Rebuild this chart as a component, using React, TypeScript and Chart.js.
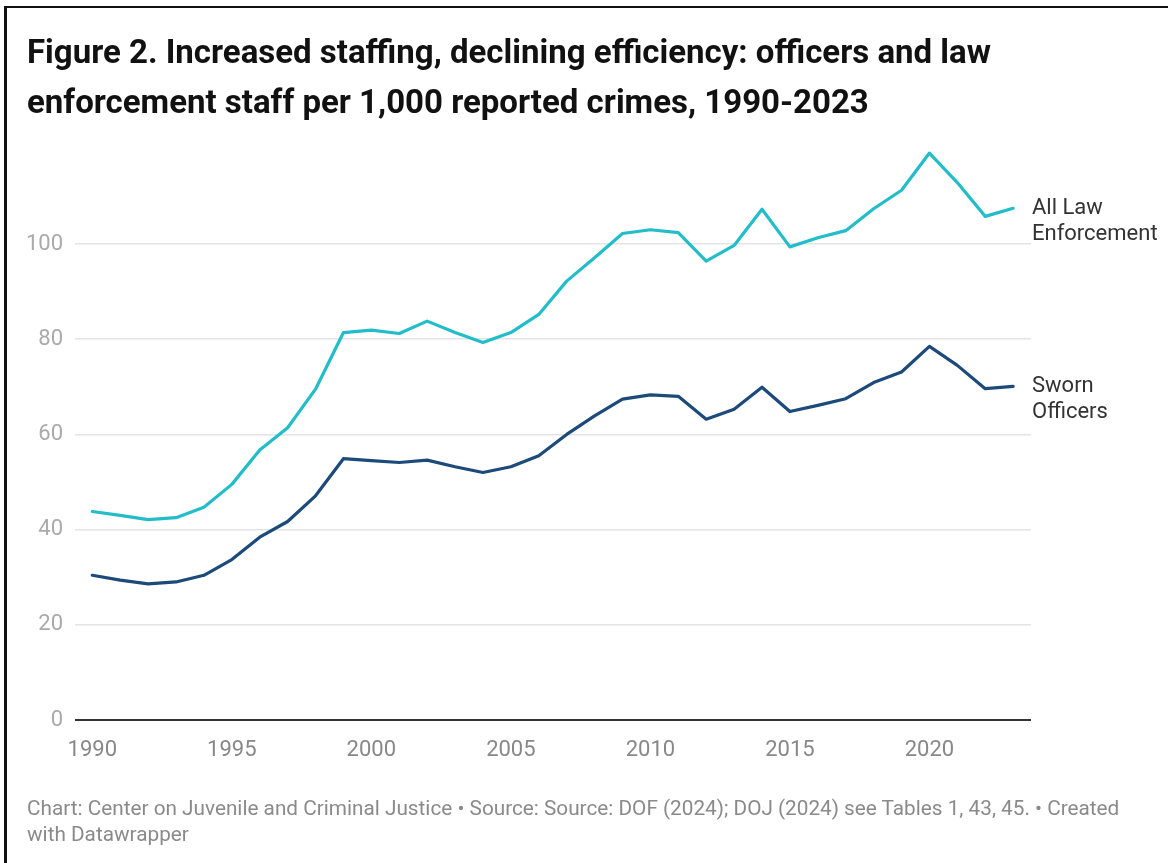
import React, { useEffect, useRef } from "react";
import { Chart, registerables } from "chart.js";

Chart.register(...registerables);

const years = [
  1990, 1991, 1992, 1993, 1994, 1995, 1996, 1997, 1998, 1999, 2000, 2001,
  2002, 2003, 2004, 2005, 2006, 2007, 2008, 2009, 2010, 2011, 2012, 2013,
  2014, 2015, 2016, 2017, 2018, 2019, 2020, 2021, 2022, 2023,
];

const allLawEnforcement = [
  43.8, 43.0, 42.1, 42.5, 44.7, 49.5, 56.7, 61.4, 69.5, 81.4, 81.9, 81.2,
  83.8, 81.4, 79.3, 81.4, 85.2, 92.2, 97.1, 102.2, 103.0, 102.4, 96.4, 99.7,
  107.3, 99.4, 101.3, 102.8, 107.4, 111.3, 119.1, 112.9, 105.8, 107.5,
];

const swornOfficers = [
  30.4, 29.4, 28.6, 29.0, 30.4, 33.7, 38.4, 41.7, 47.1, 54.9, 54.5, 54.1,
  54.6, 53.2, 52.0, 53.2, 55.5, 60.0, 63.9, 67.4, 68.3, 68.0, 63.2, 65.3,
  69.9, 64.8, 66.1, 67.5, 70.9, 73.1, 78.5, 74.5, 69.6, 70.1,
];

const xTicks = [1990, 1995, 2000, 2005, 2010, 2015, 2020];
const yTicks = [0, 20, 40, 60, 80, 100];
const seriesNames = ["All Law Enforcement", "Sworn Officers"];
const seriesLabelLines = [
  ["All Law", "Enforcement"],
  ["Sworn", "Officers"],
];
const seriesColors = ["#22bdc9", "#1b4a7b"];

const titleLines = [
  "Figure 2. Increased staffing, declining efficiency: officers and law",
  "enforcement staff per 1,000 reported crimes, 1990-2023",
];
const footerLines = [
  "Chart: Center on Juvenile and Criminal Justice \u2022 Source: Source: DOF (2024); DOJ (2024) see Tables 1, 43, 45. \u2022 Created",
  "with Datawrapper",
];

export default function App() {
  const ref = useRef<HTMLCanvasElement>(null);

  useEffect(() => {
    document.body.style.margin = "0";
    const endLabels = {
      id: "endLabels",
      afterDatasetsDraw(chart: any) {
        const ctx = chart.ctx;
        ctx.save();
        ctx.font = "22px Roboto";
        ctx.fillStyle = "#333333";
        ctx.textBaseline = "middle";
        ctx.textAlign = "left";
        chart.data.datasets.forEach((_ds: any, i: number) => {
          const meta = chart.getDatasetMeta(i);
          const pt = meta.data[meta.data.length - 1];
          seriesLabelLines[i].forEach((t, j) => {
            ctx.fillText(t, chart.chartArea.right + 1, pt.y + j * 26.5);
          });
        });
        ctx.restore();
      },
    };

    const series = [allLawEnforcement, swornOfficers];
    const chart = new Chart(ref.current as HTMLCanvasElement, {
      type: "line",
      data: {
        datasets: series.map((vals, i) => ({
          label: seriesNames[i],
          data: years.map((yr, k) => ({ x: yr, y: vals[k] })),
          borderColor: seriesColors[i],
          backgroundColor: seriesColors[i],
          borderWidth: 3.2,
          pointRadius: 0,
          tension: 0,
          borderJoinStyle: "round" as const,
          borderCapStyle: "round" as const,
        })),
      },
      options: {
        animation: false,
        responsive: false,
        layout: { padding: { left: 0, right: 137, top: 148.8, bottom: 103 } },
        plugins: { legend: { display: false }, tooltip: { enabled: false } },
        scales: {
          x: {
            type: "linear",
            min: 1989.38,
            max: 2023.64,
            grid: { display: false },
            border: { display: false },
            afterBuildTicks: (s: any) => {
              s.ticks = xTicks.map((v) => ({ value: v }));
            },
            afterFit: (s: any) => {
              s.height = 40;
            },
            ticks: {
              padding: 9,
              color: "#888888",
              font: { family: "Roboto", size: 22 },
              maxRotation: 0,
              autoSkip: false,
              callback: (v: any) => String(v),
            },
          },
          y: {
            min: 0,
            max: 120,
            afterBuildTicks: (s: any) => {
              s.ticks = yTicks.map((v) => ({ value: v }));
            },
            afterFit: (s: any) => {
              s.width = 75;
            },
            grid: {
              drawTicks: false,
              color: (c: any) => (c.tick && c.tick.value === 0 ? "#333333" : "#e4e4e4"),
              lineWidth: (c: any) => (c.tick && c.tick.value === 0 ? 2 : 1.6),
            },
            border: { display: false },
            ticks: {
              padding: 12,
              color: "#aaaaaa",
              font: { family: "Roboto", size: 22 },
              callback: (v: any) => String(v),
            },
          },
        },
      },
      plugins: [endLabels],
    });
    return () => chart.destroy();
  }, []);

  return (
    <div
      style={{
        position: "relative",
        width: 1168,
        height: 863,
        overflow: "hidden",
        background: "#ffffff",
        fontFamily: "Roboto",
      }}
    >
      <div
        style={{
          position: "absolute",
          left: 4,
          top: 6,
          width: 2000,
          height: 2000,
          borderLeft: "3px solid #111",
          borderTop: "2px solid #111",
        }}
      />
      <canvas
        ref={ref}
        width={1168}
        height={863}
        style={{ position: "absolute", left: 0, top: 0, width: 1168, height: 863 }}
      />
      <div
        style={{
          position: "absolute",
          left: 27,
          top: 27,
          font: "bold 33px Roboto",
          lineHeight: "50px",
          color: "#111111",
          whiteSpace: "nowrap",
        }}
      >
        {titleLines.map((l, i) => (
          <div key={i}>{l}</div>
        ))}
      </div>
      <div
        style={{
          position: "absolute",
          left: 27,
          top: 795,
          font: "20.75px Roboto",
          lineHeight: "26px",
          color: "#8a8a8a",
          whiteSpace: "nowrap",
        }}
      >
        {footerLines.map((l, i) => (
          <div key={i}>{l}</div>
        ))}
      </div>
    </div>
  );
}
